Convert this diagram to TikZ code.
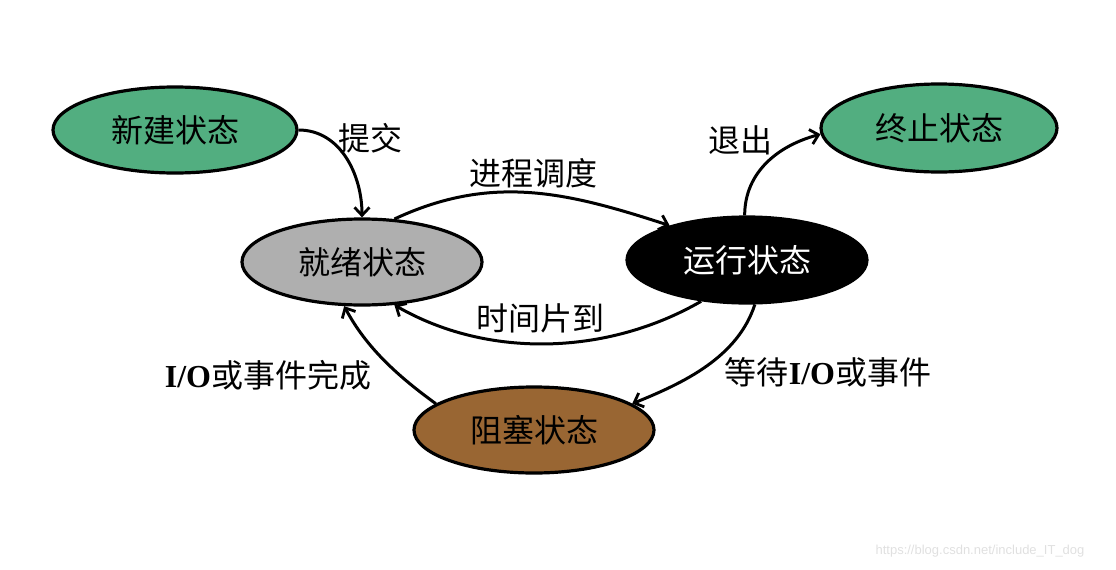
\documentclass[tikz,border=0pt]{standalone}
\usepackage{fontspec}
\setmainfont{Noto Sans CJK SC}
\newfontfamily\latserif{Liberation Serif}
\newfontfamily\wmfont{Liberation Sans}
\usetikzlibrary{shapes.geometric,arrows.meta}
\definecolor{stgreen}{RGB}{82,174,128}
\definecolor{stgray}{RGB}{175,175,175}
\definecolor{stbrown}{RGB}{153,102,51}
\tikzset{
  state/.style={ellipse, draw=black, line width=3.2pt, minimum width=240pt, minimum height=86pt, inner sep=0pt, font=\fontsize{32}{36}\selectfont},
  conn/.style={line width=3pt, -{Straight Barb[length=8pt,width=15pt,line width=2.8pt]}},
  lbl/.style={font=\fontsize{32}{36}\selectfont, inner sep=0pt},
}
\newcommand{\bio}{{\latserif\bfseries I/O}}
\begin{document}
\begin{tikzpicture}[x=1pt,y=-1pt]
\useasboundingbox (0,0) rectangle (1116,570);
\node[state, fill=stgreen, minimum width=244pt] (new) at (175,130) {新建状态};
\node[state, fill=stgreen, minimum width=236pt, minimum height=88pt] (term) at (939,128) {终止状态};
\node[state, fill=stgray] (ready) at (362,262) {就绪状态};
\node[state, fill=black, text=white] (run) at (747,260) {运行状态};
\node[state, fill=stbrown] (block) at (534,430) {阻塞状态};

\draw[conn] (new.east) to[out=0,in=90] (ready.north);
\draw[conn] (ready.53) to[out=25,in=162] (run.156);
\draw[conn] (run.222) to[out=210,in=-30,looseness=0.9] (ready.-53);
\draw[conn] (run.-80) to[out=-108,in=22,looseness=0.9] (block.15);
\draw[conn] (run.93) to[out=90,in=195] (term.183);
\draw[conn] (block.165) to[out=144,in=-62,looseness=0.9] (ready.248);

\node[lbl] (lsubmit) at (370,138) {提交};
\node[lbl] (lsched) at (533,173) {进程调度};
\node[lbl] (lslice) at (540,318) {时间片到};
\node[lbl] (lexit) at (740,140) {退出};
\node[lbl] (lwait) at (828,372) {等待\bio 或事件};
\node[lbl] (ldone) at (268,375) {\bio 或事件完成};
\node[font=\wmfont\fontsize{13}{15}\selectfont, text=black!12, inner sep=0pt] (wm) at (980,551) {https://blog.csdn.net/include\_IT\_dog};
\end{tikzpicture}
\end{document}
